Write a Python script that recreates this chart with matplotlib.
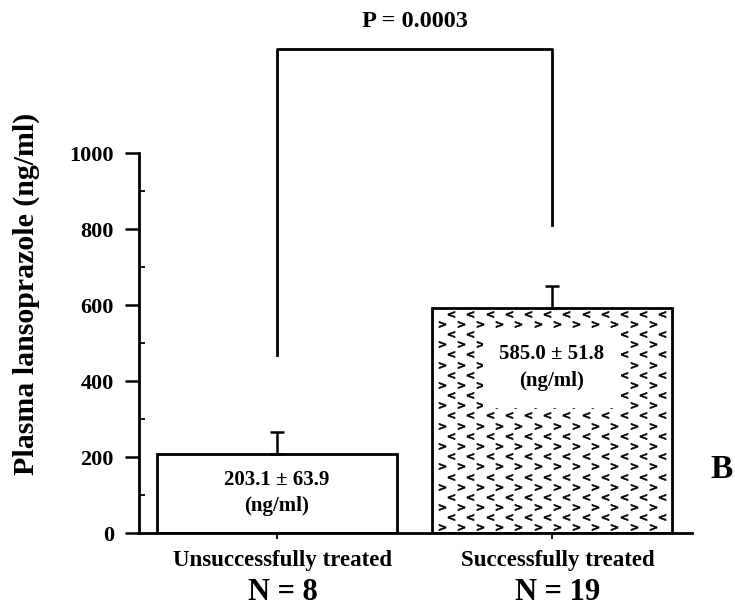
import matplotlib
matplotlib.use("Agg")
import matplotlib.pyplot as plt
import numpy as np
from matplotlib.transforms import blended_transform_factory

categories = ["Unsuccessfully treated", "Successfully treated"]
group_n = ["N = 8", "N = 19"]
means = [208, 592]
errors = [58, 58]
labels = ["203.1 \u00b1 63.9\n(ng/ml)", "585.0 \u00b1 51.8\n(ng/ml)"]
yticks = [0, 200, 400, 600, 800, 1000]
p_text = "P = 0.0003"

plt.rcParams["font.family"] = ["Liberation Serif", "DejaVu Serif"]
plt.rcParams["font.weight"] = "bold"

fig = plt.figure(figsize=(7.35, 6.15), dpi=100)
ax = fig.add_axes([0.189, 0.1333, 0.7524, 0.6179])

x = np.arange(len(categories))
width = 0.873
bars = ax.bar(x, means, width=width, color="white", edgecolor="black", linewidth=2, zorder=2)
ax.errorbar(x, means, yerr=[[0, 0], errors], fmt="none", ecolor="black", elinewidth=1.8,
            capsize=5, capthick=1.8, zorder=3)

# chevron fill pattern for second bar
b = bars[1]
x0, w = b.get_x(), b.get_width()
h = b.get_height()
nx = 12
ny = 22
dx = w / (nx + 0.5)
xs = x0 + dx * 0.5 + dx * np.arange(nx)
ys = np.linspace(h * 0.025, h * 0.975, ny)
for j, yy in enumerate(ys):
    mk = "$>$" if j % 2 == 0 else "$<$"
    xx = xs if j % 2 == 0 else xs + dx * 0.5
    ax.scatter(xx, np.full(nx, yy), marker=mk, s=26, color="black",
               linewidths=0.4, edgecolors="black", zorder=2.5, clip_on=True)

# value labels
ax.text(x[0], 105, labels[0], ha="center", va="center", fontsize=15, fontweight="bold",
        linespacing=1.45, zorder=4)
ax.text(x[1], 435, labels[1], ha="center", va="center", fontsize=15, fontweight="bold",
        linespacing=1.45, zorder=4,
        bbox=dict(boxstyle="square,pad=0.8", facecolor="white", edgecolor="none"))

ax.set_xlim(-0.502, 1.509)
ax.set_ylim(0, 1000)
ax.set_yticks(yticks)
ax.set_yticks(np.arange(100, 1000, 200), minor=True)
ax.set_yticklabels([str(t) for t in yticks], fontsize=16, fontweight="bold")
ax.tick_params(axis="y", which="major", direction="out", length=10, width=1.8, pad=8)
ax.tick_params(axis="y", which="minor", direction="in", length=4, width=1.3)
ax.set_xticks(x)
ax.set_xticklabels(["", ""])
ax.tick_params(axis="x", direction="out", length=4, width=1.3)

for s in ["top", "right"]:
    ax.spines[s].set_visible(False)
ax.spines["left"].set_linewidth(2)
ax.spines["bottom"].set_linewidth(2)

ax.set_ylabel("Plasma lansoprazole (ng/ml)", fontsize=21.5, fontweight="bold")
ax.yaxis.set_label_coords(-0.178, 0.63)

trans = blended_transform_factory(ax.transData, ax.transAxes)
for i in range(len(categories)):
    ax.text(x[i] + 0.02, -0.045, categories[i], transform=trans, ha="center", va="top",
            fontsize=16.5, fontweight="bold")
    ax.text(x[i] + 0.02, -0.118, group_n[i], transform=trans, ha="center", va="top",
            fontsize=22, fontweight="bold")

# significance bracket
ax.plot([x[0], x[0], x[1], x[1]], [468, 1274, 1274, 810], color="black", lw=2,
        clip_on=False, zorder=3)
ax.text((x[0] + x[1]) / 2, 1345, p_text, ha="center", va="center", fontsize=17.5,
        fontweight="bold")

fig.text(722 / 735, 1 - 470 / 615, "B", ha="center", va="center", fontsize=24, fontweight="bold")

fig.savefig("out.png", dpi=100)
